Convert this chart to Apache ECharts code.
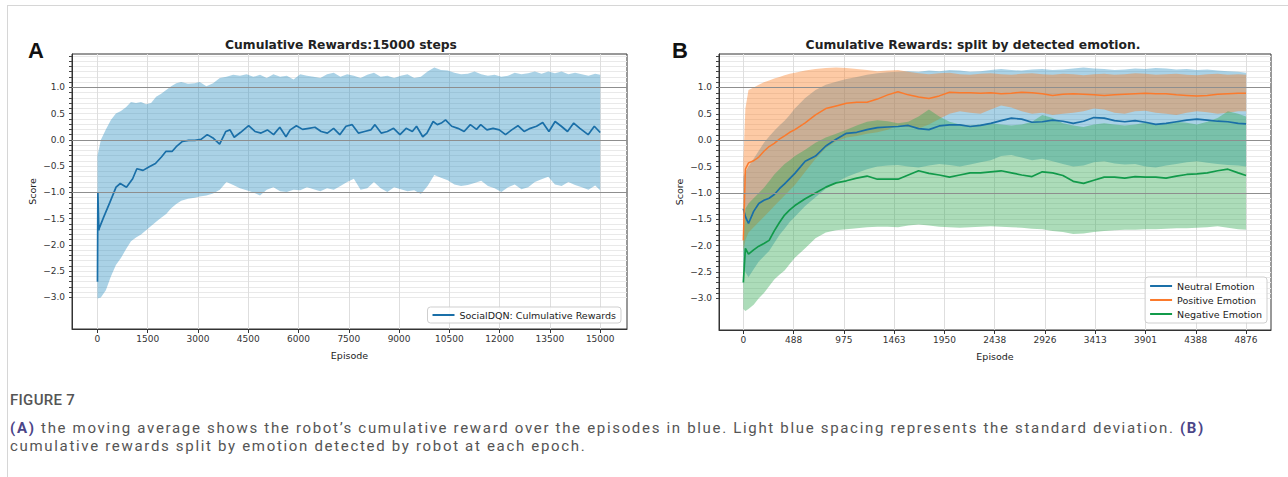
<!DOCTYPE html>
<html>
<head>
<meta charset="utf-8">
<script src="https://cdn.jsdelivr.net/npm/echarts@6/dist/echarts.min.js"></script>
<style>
  body { margin: 0; width: 1288px; height: 477px; background: #fff; overflow: hidden; position: relative; }
  #frame { position: absolute; left: 7px; top: 5px; right: 0; bottom: 0; border-top: 1px solid #d6d6d6; border-left: 1px solid #d6d6d6; }
  #chart { position: absolute; left: 0; top: 0; width: 1288px; height: 372px; }
  #cap { position: absolute; left: 10px; top: 391px; font-family: Roboto, sans-serif; color: #555; }
  #cap .fig { font-size: 15px; font-weight: 500; height: 19px; line-height: 19px; letter-spacing: 0.3px; }
  #cap .txt { font-size: 15px; height: 18px; line-height: 18px; white-space: nowrap; }
  #cap .first { margin-top: 9px; }
  #cap .line { display: inline-block; }
  #cap b { color: #4b4588; font-weight: 700; }
</style>
</head>
<body>
<div id="frame"></div>
<div id="chart"></div>
<div id="cap">
  <div class="fig">FIGURE 7</div>
  <div class="txt first"><span class="line" id="l1"><b>(A)</b> the moving average shows the robot’s cumulative reward over the episodes in blue. Light blue spacing represents the standard deviation. <b>(B)</b></span></div>
  <div class="txt"><span class="line">cumulative rewards split by emotion detected by robot at each epoch.</span></div>
</div>
<script>
// ---- panel A: moving average + std band ----
var epLineA = [0, 12, 40, 60, 185, 370, 555, 680, 865, 1050, 1175, 1360, 1545, 1730, 1915, 2040, 2225, 2350, 2535, 2720,
  2905, 3090, 3275, 3460, 3645, 3830, 3955, 4080, 4265, 4510, 4700, 4880, 5070, 5255, 5440, 5625, 5750, 5935, 6120, 6305,
  6490, 6675, 6860, 7045, 7230, 7415, 7600, 7785, 7970, 8155, 8280, 8465, 8650, 8835, 9025, 9210, 9395, 9520, 9705, 9830,
  10015, 10140, 10260, 10385, 10570, 10755, 10940, 11125, 11310, 11435, 11620, 11805, 11990, 12175, 12360, 12545, 12730, 12915, 13100, 13285,
  13470, 13655, 13840, 14025, 14210, 14395, 14640, 14825, 15000];
var meanA = [-2.7, -1.0, -1.72, -1.67, -1.47, -1.19, -0.9, -0.83, -0.9, -0.74, -0.55, -0.58, -0.51, -0.45, -0.32, -0.22, -0.22, -0.13, -0.03, -0.01,
  -0.01, 0.01, 0.1, 0.03, -0.08, 0.16, 0.19, 0.05, 0.14, 0.27, 0.16, 0.13, 0.19, 0.1, 0.24, 0.06, 0.19, 0.27, 0.2, 0.22,
  0.24, 0.16, 0.13, 0.22, 0.1, 0.26, 0.29, 0.13, 0.16, 0.19, 0.29, 0.13, 0.16, 0.22, 0.1, 0.22, 0.16, 0.26, 0.06, 0.13,
  0.35, 0.29, 0.32, 0.38, 0.26, 0.22, 0.16, 0.29, 0.2, 0.29, 0.19, 0.22, 0.19, 0.1, 0.19, 0.27, 0.16, 0.22, 0.26, 0.33,
  0.16, 0.35, 0.26, 0.16, 0.32, 0.22, 0.1, 0.26, 0.14];

var epBandA = [0, 100, 250, 400, 550, 700, 850, 1000, 1150, 1300, 1450, 1600, 1750, 1900, 2050, 2200, 2350, 2500, 2700, 2900,
  3050, 3250, 3450, 3650, 3850, 4050, 4250, 4450, 4650, 4850, 5050, 5250, 5450, 5650, 5850, 6050, 6250, 6450, 6650, 6850,
  7050, 7250, 7450, 7650, 7850, 8050, 8250, 8450, 8650, 8850, 9050, 9250, 9450, 9650, 9850, 10050, 10250, 10450, 10650, 10850,
  11050, 11250, 11450, 11650, 11850, 12050, 12250, 12450, 12650, 12850, 13050, 13250, 13450, 13650, 13850, 14050, 14250, 14450, 14650, 14850, 15000];
var upperA = [-0.3, 0.0, 0.2, 0.38, 0.5, 0.55, 0.62, 0.72, 0.7, 0.72, 0.68, 0.7, 0.82, 0.88, 0.95, 1.02, 1.08, 1.1, 1.07, 1.08,
  1.1, 1.02, 1.08, 1.18, 1.2, 1.24, 1.22, 1.25, 1.2, 1.24, 1.18, 1.25, 1.2, 1.22, 1.15, 1.25, 1.22, 1.2, 1.18, 1.25,
  1.28, 1.2, 1.25, 1.22, 1.18, 1.24, 1.28, 1.2, 1.22, 1.18, 1.22, 1.25, 1.18, 1.2, 1.3, 1.38, 1.33, 1.32, 1.28, 1.25,
  1.26, 1.3, 1.25, 1.22, 1.24, 1.2, 1.22, 1.28, 1.25, 1.27, 1.3, 1.26, 1.3, 1.27, 1.3, 1.25, 1.28, 1.25, 1.22, 1.26, 1.24];
var lowerA = [-3.02, -3.0, -2.86, -2.6, -2.38, -2.25, -2.08, -1.93, -1.86, -1.8, -1.72, -1.64, -1.56, -1.48, -1.41, -1.3, -1.22, -1.16, -1.12, -1.1,
  -1.08, -1.06, -1.02, -0.95, -0.8, -0.86, -0.92, -0.96, -1.0, -1.06, -0.95, -0.9, -0.98, -0.99, -0.95, -0.96, -0.9, -0.94, -0.98, -0.92,
  -0.95, -0.88, -0.8, -0.74, -0.95, -0.92, -0.8, -0.92, -0.99, -0.9, -0.94, -0.98, -0.96, -1.03, -0.88, -0.67, -0.72, -0.77, -0.85, -0.88,
  -0.86, -0.82, -0.78, -0.88, -0.92, -0.99, -0.9, -0.85, -0.94, -0.9, -0.8, -0.75, -0.7, -0.85, -0.88, -0.8, -0.86, -0.9, -0.95, -0.87, -0.96];
var ticksA = [0, 1500, 3000, 4500, 6000, 7500, 9000, 10500, 12000, 13500, 15000];

// ---- panel B: split by detected emotion ----
var epB = [0, 20, 50, 100, 150, 200, 250, 300, 350, 400, 450, 500,
  600, 700, 800, 900, 1000, 1100, 1200, 1300, 1400, 1500, 1600, 1700, 1800, 1900, 2000, 2100, 2200, 2300, 2400,
  2500, 2600, 2700, 2800, 2900, 3000, 3100, 3200, 3300, 3400, 3500, 3600, 3700, 3800, 3900, 4000, 4100, 4200, 4300,
  4400, 4500, 4600, 4700, 4800, 4876];
var neutral = [-1.3, -1.45, -1.58, -1.35, -1.2, -1.14, -1.1, -1.03, -0.92, -0.83, -0.73, -0.63,
  -0.4, -0.3, -0.11, 0.02, 0.13, 0.15, 0.2, 0.24, 0.25, 0.26, 0.28, 0.22, 0.2, 0.27, 0.29, 0.29, 0.26, 0.28, 0.32,
  0.37, 0.42, 0.4, 0.34, 0.35, 0.38, 0.36, 0.32, 0.36, 0.43, 0.42, 0.37, 0.35, 0.37, 0.34, 0.3, 0.32, 0.35, 0.38,
  0.4, 0.38, 0.36, 0.35, 0.32, 0.31];
var neutralUp = [-0.7, -0.6, -0.5, -0.35, -0.2, -0.05, 0.07, 0.18, 0.28, 0.37, 0.48, 0.6,
  0.8, 0.95, 1.05, 1.11, 1.16, 1.2, 1.24, 1.27, 1.29, 1.3, 1.31, 1.3, 1.32, 1.31, 1.33, 1.32, 1.3, 1.31, 1.33,
  1.35, 1.33, 1.32, 1.34, 1.35, 1.33, 1.34, 1.36, 1.38, 1.36, 1.35, 1.33, 1.34, 1.36, 1.35, 1.37, 1.36, 1.34, 1.35,
  1.33, 1.34, 1.32, 1.31, 1.3, 1.28];
var neutralLo = [-2.4, -2.5, -2.6, -2.45, -2.3, -2.2, -2.1, -1.95, -1.8, -1.68, -1.55, -1.45,
  -1.25, -1.08, -0.92, -0.8, -0.7, -0.62, -0.55, -0.5, -0.48, -0.47, -0.5, -0.52, -0.48, -0.45, -0.47, -0.5, -0.46, -0.42, -0.38,
  -0.3, -0.28, -0.33, -0.38, -0.35, -0.4, -0.45, -0.5, -0.48, -0.42, -0.4, -0.44, -0.46, -0.45, -0.5, -0.52, -0.48, -0.45, -0.42,
  -0.4, -0.43, -0.45, -0.47, -0.48, -0.5];
var positive = [-1.9, -0.55, -0.43, -0.39, -0.32, -0.21, -0.12, -0.06, 0.02, 0.08, 0.15, 0.2,
  0.33, 0.48, 0.6, 0.65, 0.7, 0.72, 0.72, 0.78, 0.86, 0.92, 0.86, 0.82, 0.79, 0.84, 0.91, 0.9, 0.9, 0.89, 0.9,
  0.88, 0.89, 0.91, 0.9, 0.88, 0.85, 0.87, 0.88, 0.87, 0.86, 0.85, 0.86, 0.87, 0.88, 0.89, 0.88, 0.88, 0.86, 0.85,
  0.84, 0.85, 0.87, 0.88, 0.89, 0.89];
var positiveUp = [-0.4, 0.6, 0.95, 1.0, 1.05, 1.1, 1.13, 1.17, 1.2, 1.23, 1.26, 1.28,
  1.32, 1.35, 1.37, 1.38, 1.37, 1.35, 1.33, 1.31, 1.32, 1.33, 1.3, 1.27, 1.25, 1.27, 1.28, 1.25, 1.24, 1.26, 1.27,
  1.25, 1.24, 1.26, 1.27, 1.25, 1.24, 1.26, 1.25, 1.23, 1.25, 1.26, 1.24, 1.25, 1.27, 1.26, 1.24, 1.25, 1.26, 1.24,
  1.23, 1.25, 1.26, 1.24, 1.25, 1.24];
var positiveLo = [-2.1, -1.9, -1.75, -1.65, -1.55, -1.45, -1.35, -1.25, -1.15, -1.05, -0.95, -0.85,
  -0.6, -0.35, -0.15, -0.02, 0.05, 0.08, 0.12, 0.15, 0.2, 0.28, 0.25, 0.22, 0.3, 0.4, 0.5, 0.55, 0.52, 0.5, 0.58,
  0.66, 0.62, 0.55, 0.5, 0.52, 0.48, 0.5, 0.52, 0.55, 0.6, 0.58, 0.52, 0.5, 0.55, 0.56, 0.52, 0.5, 0.48, 0.52,
  0.55, 0.53, 0.5, 0.52, 0.55, 0.55];
var negative = [-2.7, -2.05, -2.16, -2.08, -2.01, -1.96, -1.9, -1.72, -1.56, -1.42, -1.32, -1.24,
  -1.11, -1.0, -0.89, -0.81, -0.77, -0.72, -0.68, -0.74, -0.74, -0.74, -0.66, -0.58, -0.63, -0.66, -0.7, -0.66, -0.62, -0.62, -0.6,
  -0.58, -0.62, -0.66, -0.69, -0.6, -0.62, -0.67, -0.78, -0.82, -0.76, -0.7, -0.7, -0.72, -0.69, -0.7, -0.7, -0.72, -0.68, -0.65,
  -0.64, -0.62, -0.58, -0.55, -0.62, -0.67];
var negativeUp = [-1.8, -1.3, -1.2, -1.1, -1.0, -0.9, -0.78, -0.65, -0.55, -0.45, -0.38, -0.3,
  -0.18, -0.05, 0.05, 0.12, 0.2, 0.28, 0.35, 0.38, 0.36, 0.32, 0.35, 0.45, 0.58, 0.45, 0.35, 0.3, 0.28, 0.3, 0.32,
  0.3, 0.28, 0.3, 0.35, 0.48, 0.42, 0.32, 0.28, 0.25, 0.3, 0.32, 0.3, 0.28, 0.3, 0.33, 0.3, 0.32, 0.35, 0.33,
  0.3, 0.35, 0.42, 0.55, 0.5, 0.45];
var negativeLo = [-3.2, -3.24, -3.2, -3.12, -3.0, -2.9, -2.77, -2.64, -2.55, -2.47, -2.35, -2.23,
  -2.05, -1.86, -1.75, -1.71, -1.69, -1.67, -1.65, -1.64, -1.64, -1.65, -1.62, -1.6, -1.62, -1.64, -1.65, -1.66, -1.65, -1.64, -1.63,
  -1.64, -1.65, -1.66, -1.68, -1.69, -1.72, -1.74, -1.78, -1.77, -1.74, -1.72, -1.71, -1.7, -1.7, -1.69, -1.69, -1.68, -1.67, -1.67,
  -1.66, -1.65, -1.63, -1.66, -1.69, -1.7];
var tickLabelsB = ['0', '488', '975', '1463', '1950', '2438', '2926', '3413', '3901', '4388', '4876'];
var tickStepB = 487.6;

var ticksY = [-3, -2.5, -2, -1.5, -1, -0.5, 0, 0.5, 1];

// ---- helpers ----
var FONT = 'DejaVu Sans';
var ticksB = tickLabelsB.map(function (s, i) { return i * tickStepB; });
var minorY = [];
for (var k = -30; k <= 16; k++) minorY.push(k / 10);

function pairs(xs, ys) { return xs.map(function (x, i) { return [x, ys[i]]; }); }
function fmtY(v) { return (v < 0 ? '\u2212' : '') + Math.abs(v).toFixed(1); }

// std band as one polygon: upper edge left->right, lower edge back
function band(xs, lo, up, fill, gi) {
  return {
    type: 'custom', xAxisIndex: gi, yAxisIndex: gi, silent: true, z: 2,
    data: xs.map(function (x, i) { return [x, lo[i], up[i]]; }),
    encode: { x: 0, y: [1, 2] },
    renderItem: function (params, api) {
      if (params.dataIndex !== 0) return null;
      var pts = [];
      for (var i = 0; i < xs.length; i++) pts.push(api.coord([xs[i], up[i]]));
      for (var j = xs.length - 1; j >= 0; j--) pts.push(api.coord([xs[j], lo[j]]));
      return { type: 'polygon', shape: { points: pts }, style: { fill: fill, stroke: null } };
    }
  };
}

function xAxis(gi, min, max, ticks, fmt) {
  return {
    gridIndex: gi, type: 'value', min: min, max: max,
    name: 'Episode', nameLocation: 'middle', nameGap: 21,
    nameTextStyle: { fontFamily: FONT, fontSize: 9.5, color: '#222' },
    axisLine: { onZero: false, lineStyle: { color: '#333' } },
    axisTick: { customValues: ticks, length: 4, lineStyle: { color: '#333' } },
    axisLabel: { customValues: ticks, formatter: fmt, fontFamily: FONT, fontSize: 9, color: '#333', margin: 5 },
    splitLine: { show: true, lineStyle: { color: '#dedede' } }
  };
}

// ticks (and grid lines) every 0.1 from -3.0 up, labels every 0.5
function yAxis(gi) {
  return {
    gridIndex: gi, type: 'value', min: -3.6, max: 1.635,
    name: 'Score', nameLocation: 'middle', nameGap: 35,
    nameTextStyle: { fontFamily: FONT, fontSize: 9.5, color: '#222' },
    axisLine: { show: true, onZero: false, lineStyle: { color: '#333' } },
    axisTick: { customValues: minorY, length: 3, lineStyle: { color: '#444' } },
    axisLabel: { customValues: ticksY, formatter: fmtY, fontFamily: FONT, fontSize: 9, color: '#333', margin: 7 },
    splitLine: { show: true, lineStyle: { color: '#e9e9e9' } }
  };
}

var darkLines = {
  silent: true, symbol: 'none', label: { show: false },
  lineStyle: { color: '#8e8e8e', width: 1, type: 'solid' },
  data: [{ yAxis: -1 }, { yAxis: 0 }, { yAxis: 1 }]
};

function lineSeries(name, xs, ys, color, gi, width, withMark) {
  var s = { name: name, type: 'line', xAxisIndex: gi, yAxisIndex: gi, data: pairs(xs, ys),
    symbol: 'none', color: color, lineStyle: { color: color, width: width }, z: 4 };
  if (withMark) s.markLine = darkLines;
  return s;
}

var legendText = { fontFamily: FONT, fontSize: 9.5, color: '#222' };
var chart = echarts.init(document.getElementById('chart'), null, { renderer: 'svg' });

chart.setOption({
  animation: false,
  title: [
    { text: 'Cumulative Rewards:15000 steps', left: 341, top: 39, textAlign: 'center', padding: 0,
      textStyle: { fontFamily: FONT, fontSize: 12.3, fontWeight: 'bold', color: '#222' } },
    { text: 'Cumulative Rewards: split by detected emotion.', left: 973, top: 39, textAlign: 'center', padding: 0,
      textStyle: { fontFamily: FONT, fontSize: 12.3, fontWeight: 'bold', color: '#222' } },
    { text: 'A', left: 28, top: 39, padding: 0,
      textStyle: { fontFamily: 'Liberation Sans', fontSize: 22, fontWeight: 'bold', color: '#111' } },
    { text: 'B', left: 672, top: 39, padding: 0,
      textStyle: { fontFamily: 'Liberation Sans', fontSize: 22, fontWeight: 'bold', color: '#111' } }
  ],
  legend: [
    { data: ['SocialDQN: Culmulative Rewards'], right: 667, top: 307, orient: 'vertical',
      icon: 'rect', itemWidth: 22, itemHeight: 2, padding: [3, 5], itemGap: 4,
      borderColor: '#cfcfcf', borderWidth: 1, borderRadius: 3, backgroundColor: 'rgba(255,255,255,0.85)',
      textStyle: legendText, selectedMode: false },
    { data: ['Neutral Emotion', 'Positive Emotion', 'Negative Emotion'], right: 21, top: 277, orient: 'vertical',
      icon: 'rect', itemWidth: 22, itemHeight: 2, padding: [4, 5], itemGap: 4,
      borderColor: '#cfcfcf', borderWidth: 1, borderRadius: 3, backgroundColor: 'rgba(255,255,255,0.85)',
      textStyle: legendText, selectedMode: false }
  ],
  grid: [
    { left: 72, top: 54, width: 555, height: 275, show: true, borderColor: '#333', borderWidth: 1, backgroundColor: 'transparent' },
    { left: 719, top: 54, width: 552, height: 276, show: true, borderColor: '#333', borderWidth: 1, backgroundColor: 'transparent' }
  ],
  xAxis: [
    xAxis(0, -760, 15800, ticksA, function (v) { return String(v); }),
    xAxis(1, -236, 5118, ticksB, function (v) { return tickLabelsB[Math.round(v / tickStepB)]; })
  ],
  yAxis: [yAxis(0), yAxis(1)],
  series: [
    band(epBandA, lowerA, upperA, 'rgba(42,142,192,0.4)', 0),
    lineSeries('SocialDQN: Culmulative Rewards', epLineA, meanA, '#1a6fa8', 0, 1.7, true),
    band(epB, neutralLo, neutralUp, 'rgba(42,142,192,0.4)', 1),
    band(epB, positiveLo, positiveUp, 'rgba(250,122,30,0.4)', 1),
    band(epB, negativeLo, negativeUp, 'rgba(47,167,80,0.4)', 1),
    lineSeries('Neutral Emotion', epB, neutral, '#1a6fa8', 1, 1.7, true),
    lineSeries('Positive Emotion', epB, positive, '#fb7a2c', 1, 1.5, false),
    lineSeries('Negative Emotion', epB, negative, '#119a4a', 1, 1.7, false)
  ]
});

// stretch the caption's first line to the width it has in the figure
var l1 = document.getElementById('l1');
var extra = (1195 - l1.getBoundingClientRect().width) / l1.textContent.length;
document.querySelectorAll('#cap .txt').forEach(function (el) { el.style.letterSpacing = extra.toFixed(2) + 'px'; });
</script>
</body>
</html>
